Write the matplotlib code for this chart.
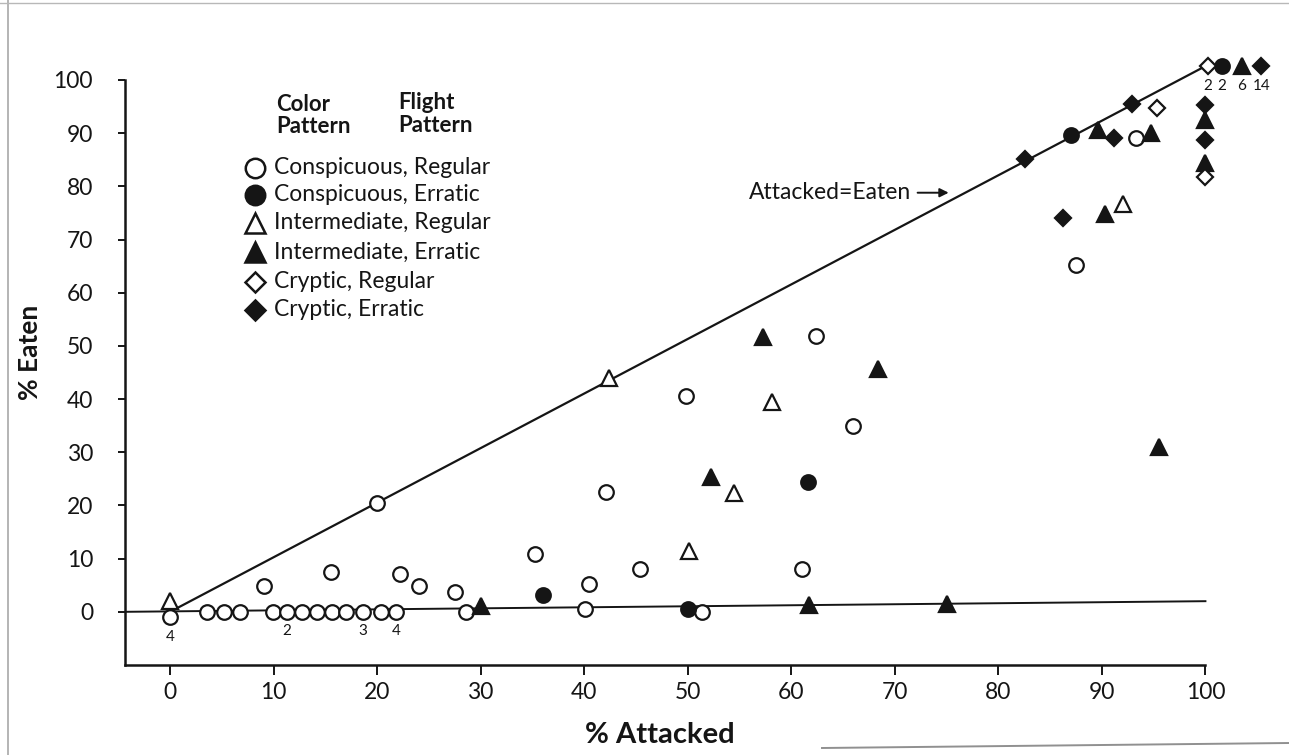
import matplotlib
matplotlib.use("Agg")
import matplotlib.pyplot as plt
from matplotlib.lines import Line2D

plt.rcParams['font.family'] = ['Lato', 'DejaVu Sans']

# ---- data: % attacked (x) and % eaten (y) for each prey type ----
consp_reg_x = [0, 3.6, 5.2, 6.8, 9.9, 11.3, 12.7, 14.2, 15.6, 17.0, 18.6, 20.4, 21.8,
               28.6, 40.1, 51.4, 9.1, 15.5, 22.2, 24.0, 27.5, 20.0, 35.2, 40.5, 45.4,
               42.1, 49.8, 61.0, 66.0, 62.4, 87.5, 93.3]
consp_reg_y = [-1, 0, 0, 0, 0, 0, 0, 0, 0, 0, 0, 0, 0,
               0, 0.5, 0, 4.9, 7.5, 7.1, 4.8, 3.7, 20.5, 10.9, 5.3, 8.0,
               22.6, 40.5, 8.1, 35.0, 51.8, 65.2, 89.0]

consp_err_x = [36.0, 50.0, 61.6, 87.0, 101.6]
consp_err_y = [3.2, 0.5, 24.5, 89.7, 102.6]

inter_reg_x = [0, 42.4, 58.1, 54.5, 50.1, 92.0]
inter_reg_y = [2.0, 44.0, 39.5, 22.4, 11.4, 76.7]

inter_err_x = [30.0, 61.7, 75.0, 52.2, 57.3, 68.4, 89.6, 94.7, 90.3, 100, 100, 95.5, 103.5]
inter_err_y = [1.0, 1.2, 1.5, 25.4, 51.7, 45.6, 90.6, 90.0, 74.8, 92.5, 84.3, 31.0, 102.6]

crypt_reg_x = [95.3, 100, 100.2]
crypt_reg_y = [94.7, 81.8, 102.6]

crypt_err_x = [82.6, 92.9, 91.2, 86.2, 100, 100, 105.4]
crypt_err_y = [85.1, 95.4, 89.0, 74.0, 95.3, 88.7, 102.6]

# number of overlapping observations at a point
count_x = [0, 11.3, 18.6, 21.8, 100.2, 101.6, 103.5, 105.4]
count_y = [-1, 0, 0, 0, 102.6, 102.6, 102.6, 102.6]
count_text = ['4', '2', '3', '4', '2', '2', '6', '14']

x_ticks = [0, 10, 20, 30, 40, 50, 60, 70, 80, 90, 100]
y_ticks = [0, 10, 20, 30, 40, 50, 60, 70, 80, 90, 100]

legend_labels = ['Conspicuous, Regular', 'Conspicuous, Erratic',
                 'Intermediate, Regular', 'Intermediate, Erratic',
                 'Cryptic, Regular', 'Cryptic, Erratic']

INK = '#151515'

fig = plt.figure(figsize=(12.89, 7.55), dpi=100)
ax = fig.add_axes([0.097, 0.1192, 0.896, 0.808])
ax.set_xlim(-4.35, 107.2)
ax.set_ylim(-10, 104.7)

# reference lines: attacked = eaten, and nothing eaten
ax.plot([0, 100], [0, 102.6], color=INK, lw=1.6, zorder=2)
ax.plot([-4.35, 100], [0, 2.0], color=INK, lw=1.4, zorder=2)

series = [
    (consp_reg_x, consp_reg_y, 'o', 'white', 10.5),
    (consp_err_x, consp_err_y, 'o', INK, 10.5),
    (inter_reg_x, inter_reg_y, '^', 'white', 11),
    (inter_err_x, inter_err_y, '^', INK, 11),
    (crypt_reg_x, crypt_reg_y, 'D', 'white', 8.5),
    (crypt_err_x, crypt_err_y, 'D', INK, 8.5),
]
for xs, ys, mk, fc, ms in series:
    ax.plot(xs, ys, linestyle='none', marker=mk, markersize=ms,
            markerfacecolor=fc, markeredgecolor=INK, markeredgewidth=1.6,
            zorder=3, clip_on=False)

for cx, cy, t in zip(count_x, count_y, count_text):
    ax.annotate(t, (cx, cy), xytext=(0, -14), textcoords='offset points',
                ha='center', va='center', fontsize=11, color=INK)

# annotation for the diagonal
ax.annotate('', xy=(75.2, 78.8), xytext=(72.2, 78.8),
            arrowprops=dict(arrowstyle='-|>', color=INK, lw=1.4,
                            mutation_scale=13, shrinkA=0, shrinkB=0))
ax.text(71.6, 78.8, 'Attacked=Eaten', ha='right', va='center',
        fontsize=16.5, color=INK)

# axes styling
for side in ('top', 'right'):
    ax.spines[side].set_visible(False)
ax.spines['left'].set_bounds(-10, 100)
ax.spines['bottom'].set_bounds(-4.35, 100)
for side in ('left', 'bottom'):
    ax.spines[side].set_linewidth(1.8)
    ax.spines[side].set_color(INK)

ax.set_xticks(x_ticks)
ax.set_yticks(y_ticks)
ax.set_xticklabels([str(v) for v in x_ticks])
ax.set_yticklabels([str(v) for v in y_ticks])
ax.tick_params(axis='x', direction='out', length=7, width=1.4, pad=5,
               labelsize=16.5, colors=INK)
ax.tick_params(axis='y', direction='out', length=5, width=1.4, pad=18,
               labelsize=16.5, colors=INK)

ax.set_xlabel('% Attacked', fontsize=21, fontweight='bold', color=INK)
ax.set_ylabel('% Eaten', fontsize=19, fontweight='bold', color=INK)
ax.xaxis.set_label_coords((660 - 125) / 1155, -(722 - 665) / 610)
ax.yaxis.set_label_coords(-(125 - 42) / 1155, (665 - 352) / 610)

# legend drawn by hand: marker column plus two header columns
def ax_xy(px, py):
    return (px - 125) / 1155, (665 - py) / 610

headers = [(276, 105, 'Color'), (276, 127, 'Pattern'),
           (398, 103, 'Flight'), (398, 126, 'Pattern')]
for px, py, t in headers:
    hx, hy = ax_xy(px, py)
    ax.text(hx, hy, t, transform=ax.transAxes, fontsize=16,
            fontweight='bold', va='center', ha='left', color=INK)

row_y = [168, 195, 223, 252, 282, 310]
legend_ms = [14, 14, 14, 14, 10, 10]
for (xs, ys, mk, fc, ms), lab, ry, lms in zip(series, legend_labels, row_y, legend_ms):
    mx, my = ax_xy(255, ry)
    ax.add_line(Line2D([mx], [my], transform=ax.transAxes, linestyle='none',
                       marker=mk, markersize=lms, markerfacecolor=fc,
                       markeredgecolor=INK, markeredgewidth=1.8, clip_on=False))
    tx, ty = ax_xy(274, ry)
    ax.text(tx, ty, lab, transform=ax.transAxes, fontsize=16.5,
            va='center', ha='left', color=INK)

# page edges of the printed sheet
fig.add_artist(Line2D([8 / 1289, 8 / 1289], [0, 1], transform=fig.transFigure,
                      color='#a8a8a8', lw=1.2))
fig.add_artist(Line2D([0, 1], [1 - 3 / 755, 1 - 3 / 755], transform=fig.transFigure,
                      color='#b8b8b8', lw=1.0))
fig.add_artist(Line2D([822 / 1289, 1], [1 - 748 / 755, 1 - 743 / 755],
                      transform=fig.transFigure, color='#909090', lw=1.4))

fig.savefig('out.png', dpi=100)
